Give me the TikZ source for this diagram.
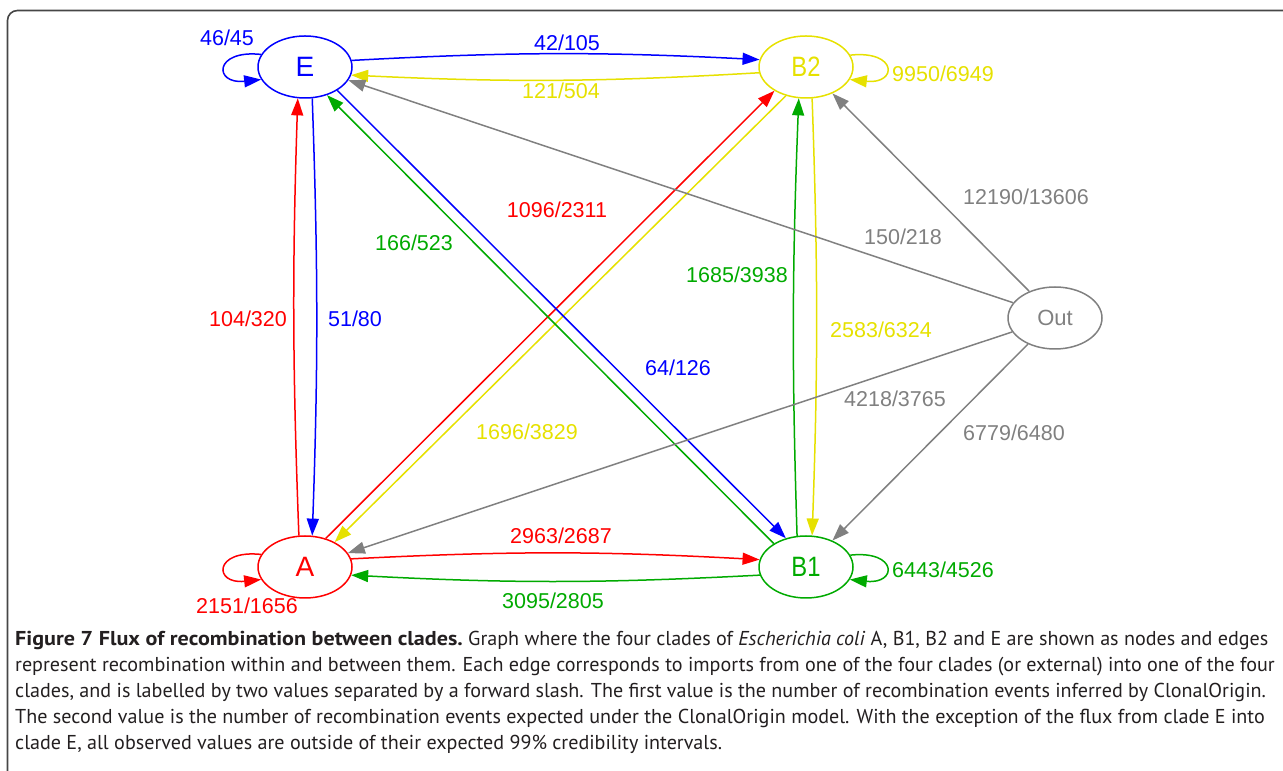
\documentclass[tikz,border=0pt]{standalone}
\usepackage{fontspec}
\usepackage{graphicx}
\setmainfont{Liberation Sans}
\newfontfamily\capfont{PT Sans}
\usetikzlibrary{shapes.geometric,arrows.meta}
\definecolor{gyel}{RGB}{230,225,0}
\definecolor{ggreen}{RGB}{0,170,0}
\definecolor{ggray}{RGB}{128,128,128}
\definecolor{gblue}{RGB}{0,0,255}
\definecolor{gred}{RGB}{255,0,0}
\definecolor{frame}{RGB}{70,70,70}
\definecolor{captext}{RGB}{35,31,32}
\begin{document}
\begin{tikzpicture}[x=1pt,y=1pt,
  clade/.style={ellipse, draw, line width=1.5pt, minimum width=94pt, minimum height=62pt, inner sep=0pt, font=\fontsize{28}{28}\selectfont},
  lab/.style={font=\fontsize{21.5}{21.5}\selectfont, inner sep=0pt},
  edge/.style={line width=1.5pt, -{Triangle[length=17pt,width=12pt]}},
]
\useasboundingbox (0,0) rectangle (1283,771);
\draw[frame, line width=1.6pt, rounded corners=10pt] (7.5,-5) -- (7.5,760.5) -- (1300,760.5);

% nodes
\node[clade, gblue] (E) at (305,704) {E};
\node[clade, gyel] (B2) at (806,704) {\scalebox{0.85}[1]{B2}};
\node[clade, gred] (A) at (305,204) {A};
\node[clade, ggreen] (B1) at (806,204) {\scalebox{0.85}[1]{B1}};
\node[clade, ggray, font=\fontsize{22}{22}\selectfont] (Out) at (1055,453) {Out};

% horizontal pairs
\draw[edge,gblue] (E.8) to[bend left=3] (B2.171);
\draw[edge,gyel] (B2.187) to[bend left=3] (E.350);
\draw[edge,gred] (A.10) to[bend left=3] (B1.171);
\draw[edge,ggreen] (B1.190) to[bend left=3] (A.350);
% vertical pairs
\draw[edge,gred] (A.101) to[bend left=2] (E.257);
\draw[edge,gblue] (E.283) to[bend left=2] (A.77);
\draw[edge,ggreen] (B1.106) to[bend left=2] (B2.257);
\draw[edge,gyel] (B2.281) to[bend left=2] (B1.79);
% diagonals
\draw[edge,gred] (A.54) -- (B2.217);
\draw[edge,gyel] (B2.235) -- (A.40);
\draw[edge,ggreen] (B1.144) -- (E.308);
\draw[edge,gblue] (E.324) -- (B1.125);
% from Out
\draw[edge,ggray] (Out.160) -- (E.343);
\draw[edge,ggray] (Out.134) -- (B2.315);
\draw[edge,ggray] (Out.198) -- (A.18);
\draw[edge,ggray] (Out.224) -- (B1.45);
% self loops
\draw[edge,gblue] (E.164) .. controls +(174:48) and +(186:48) .. (E.196);
\draw[edge,gred] (A.164) .. controls +(174:48) and +(186:48) .. (A.196);
\draw[edge,gyel] (B2.15) .. controls +(6:48) and +(-6:48) .. (B2.-16);
\draw[edge,ggreen] (B1.15) .. controls +(6:48) and +(-6:48) .. (B1.-16);

% labels
\node[lab, gblue] (l1) at (227,733) {46/45};
\node[lab, gblue] (l2) at (567,728) {42/105};
\node[lab, gyel] (l3) at (561,680) {121/504};
\node[lab, gyel] (l4) at (943,697) {9950/6949};
\node[lab, gred] (l5) at (248,452) {104/320};
\node[lab, gblue] (l6) at (355,452) {51/80};
\node[lab, ggreen] (l7) at (414,528) {166/523};
\node[lab, gred] (l8) at (557,561) {1096/2311};
\node[lab, ggray] (l9) at (903,534) {150/218};
\node[lab, ggray] (l10) at (1026,574) {12190/13606};
\node[lab, ggreen] (l11) at (737,496) {1685/3938};
\node[lab, gyel] (l12) at (881,441) {2583/6324};
\node[lab, gblue] (l13) at (678,403) {64/126};
\node[lab, ggray] (l14) at (895,372) {4218/3765};
\node[lab, ggray] (l15) at (1014,338) {6779/6480};
\node[lab, gyel] (l16) at (527,339) {1696/3829};
\node[lab, gred] (l17) at (561,235) {2963/2687};
\node[lab, ggreen] (l18) at (553,170) {3095/2805};
\node[lab, gred] (l19) at (247,165) {2151/1656};
\node[lab, ggreen] (l20) at (943,201) {6443/4526};

% caption
\node[anchor=base west, align=left, inner sep=0pt, text=captext,
      font=\capfont\fontsize{20.1}{26}\selectfont] (cap) at (15,21)
{\scalebox{1.1}[1]{\textbf{Figure 7 Flux of recombination between clades.}} Graph where the four clades of \textit{Escherichia coli} A, B1, B2 and E are shown as nodes and edges\\
represent recombination within and between them. Each edge corresponds to imports from one of the four clades (or external) into one of the four\\
clades, and is labelled by two values separated by a forward slash. The first value is the number of recombination events inferred by ClonalOrigin.\\
The second value is the number of recombination events expected under the ClonalOrigin model. With the exception of the flux from clade E into\\
clade E, all observed values are outside of their expected 99\% credibility intervals.};
\end{tikzpicture}
\end{document}
